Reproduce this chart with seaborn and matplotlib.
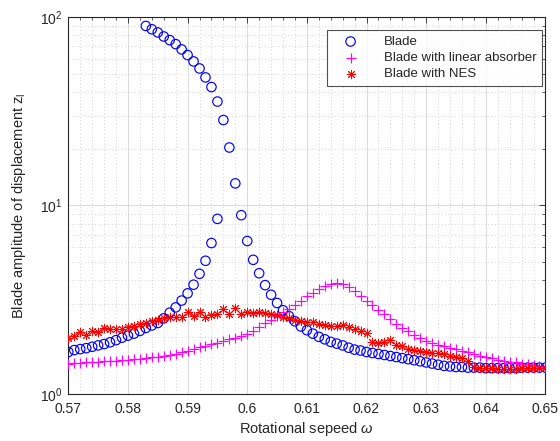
import numpy as np
import pandas as pd
import matplotlib
matplotlib.use("Agg")
import matplotlib.pyplot as plt
import seaborn as sns
from matplotlib.ticker import MultipleLocator, LogLocator, NullFormatter

# frequency sweep, step 0.001
omega = np.round(np.arange(570, 651) / 1000, 3)

# blade without absorber: lower branch (0.570-0.595) and upper branch (0.583-0.650)
blade_low_w = omega[:26]
blade_low = [1.67, 1.71, 1.73, 1.75, 1.78, 1.81, 1.84, 1.88, 1.93, 1.99,
             2.04, 2.09, 2.16, 2.24, 2.31, 2.38, 2.52, 2.70, 2.88, 3.13,
             3.42, 3.80, 4.34, 5.09, 6.32, 8.49]
blade_high_w = omega[13:]
blade_high = [89.6, 86.1, 82.8, 78.8, 75.4, 71.8, 67.3, 62.8, 58.1, 53.3,
              47.8, 42.5, 35.6, 28.4, 20.3, 13.1, 8.88, 6.48, 5.15, 4.37,
              3.78, 3.36, 3.04, 2.78, 2.59, 2.43, 2.28, 2.18, 2.09, 2.01,
              1.95, 1.89, 1.85, 1.81, 1.76, 1.72, 1.70, 1.67, 1.65, 1.63,
              1.61, 1.59, 1.57, 1.55, 1.53, 1.51, 1.49, 1.47, 1.45, 1.43,
              1.41, 1.40, 1.39, 1.39, 1.38, 1.38, 1.38, 1.37, 1.37, 1.37,
              1.37, 1.37, 1.37, 1.38, 1.38, 1.38, 1.38, 1.38]

linear_abs = [1.45, 1.46, 1.46, 1.47, 1.47, 1.48, 1.49, 1.50, 1.50, 1.51,
              1.52, 1.53, 1.54, 1.55, 1.57, 1.58, 1.59, 1.61, 1.63, 1.66,
              1.70, 1.73, 1.77, 1.80, 1.84, 1.87, 1.91, 1.95, 1.99, 2.04,
              2.08, 2.17, 2.27, 2.37, 2.47, 2.59, 2.71, 2.84, 2.98, 3.10,
              3.30, 3.45, 3.60, 3.74, 3.83, 3.87, 3.85, 3.70, 3.50, 3.30,
              3.12, 2.95, 2.80, 2.65, 2.50, 2.35, 2.24, 2.15, 2.06, 1.98,
              1.92, 1.87, 1.83, 1.80, 1.76, 1.73, 1.70, 1.66, 1.63, 1.60,
              1.57, 1.55, 1.52, 1.50, 1.48, 1.47, 1.45, 1.44, 1.42, 1.41, 1.39]

nes = [1.99, 2.03, 2.12, 2.06, 2.15, 2.12, 2.25, 2.20, 2.22, 2.21,
       2.28, 2.30, 2.36, 2.38, 2.44, 2.46, 2.52, 2.55, 2.55, 2.55,
       2.73, 2.60, 2.73, 2.55, 2.62, 2.67, 2.81, 2.67, 2.85, 2.65,
       2.73, 2.70, 2.72, 2.68, 2.67, 2.62, 2.57, 2.52, 2.47, 2.45,
       2.42, 2.40, 2.36, 2.32, 2.30, 2.29, 2.32, 2.27, 2.20, 2.16,
       2.10, 1.89, 1.87, 1.89, 1.93, 1.82, 1.79, 1.74, 1.71, 1.69,
       1.67, 1.65, 1.64, 1.62, 1.60, 1.58, 1.56, 1.50, 1.39, 1.38,
       1.37, 1.37, 1.36, 1.36, 1.36, 1.36, 1.37, 1.37, 1.37, 1.37, 1.37]

xtick_vals = [0.57, 0.58, 0.59, 0.60, 0.61, 0.62, 0.63, 0.64, 0.65]
xtick_labels = ["0.57", "0.58", "0.59", "0.6", "0.61", "0.62", "0.63", "0.64", "0.65"]

sns.set_style("white")
plt.rcParams["font.family"] = ["Liberation Sans", "DejaVu Sans"]
plt.rcParams["mathtext.fontset"] = "custom"
plt.rcParams["mathtext.rm"] = "Liberation Sans"
plt.rcParams["mathtext.it"] = "Liberation Sans:italic"

txt = "#262626"
fig = plt.figure(figsize=(5.6, 4.41), dpi=100)
ax = fig.add_axes([0.1220, 0.1066, 0.8520, 0.8549])

blade = pd.DataFrame({"w": np.concatenate([blade_low_w, blade_high_w]),
                      "z": blade_low + blade_high})

sns.scatterplot(x=blade["w"], y=blade["z"], marker="o", s=46, fc="none",
                ec="blue", linewidth=0.85, ax=ax, label="Blade", zorder=3)
sns.scatterplot(x=omega, y=linear_abs, marker="+", s=44, color="magenta",
                linewidth=0.85, ax=ax, label="Blade with linear absorber", zorder=3)
sns.scatterplot(x=omega, y=nes, marker=(8, 2, 0), s=38, color="red", ec="red",
                linewidth=0.7, ax=ax, label="Blade with NES", zorder=4)

ax.set_yscale("log")
ax.set_xlim(0.57, 0.65)
ax.set_ylim(1, 100)
ax.set_xticks(xtick_vals)
ax.set_xticklabels(xtick_labels)
ax.xaxis.set_minor_locator(MultipleLocator(0.002))
ax.yaxis.set_minor_locator(LogLocator(base=10, subs=np.arange(2, 10)))
ax.yaxis.set_minor_formatter(NullFormatter())

ax.grid(True, which="major", color="#dcdcdc", linewidth=0.8, linestyle="-")
ax.grid(True, which="minor", color="#c8c8c8", linewidth=0.6, linestyle=(0, (1, 3)))
ax.set_axisbelow(True)

ax.tick_params(which="both", direction="in", top=True, right=True,
               colors=txt, labelsize=10)
ax.tick_params(axis="x", which="major", pad=6)
ax.tick_params(axis="y", which="major", pad=4)
ax.tick_params(which="major", length=4, width=0.6)
ax.tick_params(which="minor", length=2.5, width=0.5)
for sp in ax.spines.values():
    sp.set_color(txt)
    sp.set_linewidth(0.8)

ax.set_xlabel(r"Rotational sepeed $\omega$", fontsize=10.5, color=txt, labelpad=3)
ax.set_ylabel(r"Blade amplitude of displacement $\mathregular{z_l}$", fontsize=10.5,
              color=txt, labelpad=9)

leg = ax.legend(loc="upper right", bbox_to_anchor=(0.993, 0.966), borderaxespad=0,
                fontsize=9.5, frameon=True, fancybox=False, edgecolor=txt,
                handletextpad=1.2, borderpad=0.45, labelspacing=0.3, handlelength=2.6)
leg.get_frame().set_linewidth(0.8)
for t in leg.get_texts():
    t.set_color(txt)

fig.savefig("out.png", dpi=100, facecolor="white")
